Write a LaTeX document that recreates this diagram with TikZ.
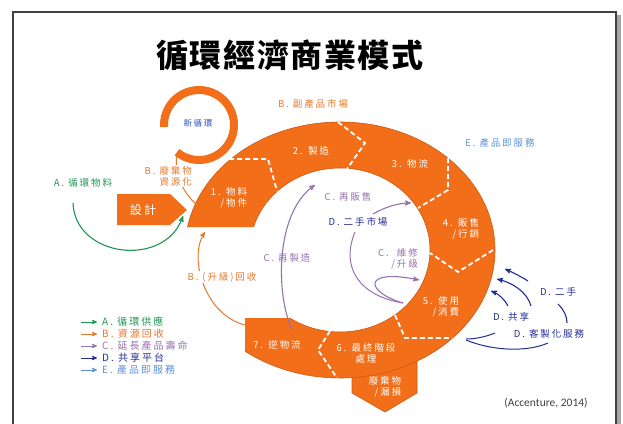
\documentclass[tikz,border=0pt]{standalone}
\usepackage{fontspec}
\newfontfamily\cjk[LetterSpace=20]{Noto Sans CJK TC}
\newfontfamily\cjktitle[LetterSpace=5]{Noto Sans CJK TC}
\newfontfamily\acc{Carlito}
\usepackage{tikz}
\usetikzlibrary{arrows,arrows.meta}

\definecolor{ringorange}{RGB}{242,110,24}
\definecolor{ringedge}{RGB}{205,88,20}
\definecolor{corange}{RGB}{232,120,45}
\definecolor{cgreen}{RGB}{30,150,80}
\definecolor{cpurple}{RGB}{150,115,175}
\definecolor{cnavy}{RGB}{35,45,150}
\definecolor{clblue}{RGB}{95,145,215}
\definecolor{cblue}{RGB}{40,80,185}

\begin{document}
\begin{tikzpicture}[>=stealth',x=1pt,y=-1pt,
            seg/.style={text=white,font=\cjk\fontsize{9.5}{11}\selectfont,align=right,inner sep=0pt},
            lbl/.style={font=\cjk\fontsize{9.5}{11}\selectfont,inner sep=1pt},
            divider/.style={white,dashed,line width=1.8pt,dash pattern=on 5pt off 3pt},
            link/.style={->,line width=1.1pt}]
            \useasboundingbox (0,0) rectangle (623,423);
            \fill[white] (0,0) rectangle (623,423);

            % frame with shadow
            \fill[black!35] (616,15) rectangle (621,430);
            \draw[black!75,line width=1.5pt] (13,12) rectangle (616,440);

            \node[font=\cjktitle\bfseries\fontsize{32}{32}\selectfont] (title) at (290,55) {循環經濟商業模式};

            % waste box below stage 6
            \filldraw[fill=ringorange,draw=ringedge,line width=0.6pt]
                  (352,360) -- (417,360) -- (417,393) -- (385,412) -- (352,393) -- cycle;

            % the ring
            \begin{scope}
              \clip (0,0) -- (623,0) -- (623,423) -- (245,423) -- (245,318)
                    -- (300,318) -- (300,227) -- (0,227) -- cycle;
              \filldraw[fill=ringorange,draw=ringedge,line width=0.6pt,even odd rule]
                    (340,250) ellipse [x radius=155,y radius=128]
                    (340,250) ellipse [x radius=90,y radius=82];
            \end{scope}

            \draw[divider] (229,159) -- (268,159) -- (277,191);
            \draw[divider] (338,122) -- (365,143) -- (347,169);
            \draw[divider] (448,158) -- (448,190) -- (418,208);
            \draw[divider] (493,250) -- (458,272) -- (430,253);
            \draw[divider] (395,315) -- (405,338) -- (452,338);
            \draw[divider] (330,331) -- (318,350) -- (337,378);

            % design box
            \fill[ringorange] (117,194) -- (170,194) -- (187,210) -- (170,225) -- (117,225) -- cycle;
            \node[seg,font=\cjk\fontsize{12}{12}\selectfont] (design) at (143,210) {設計};

            \node[seg] (s1) at (229,198) {1. 物料\\/物件};
            \node[seg] (s2) at (311,151) {2. 製造};
            \node[seg] (s3) at (410,164) {3. 物流};
            \node[seg] (s4) at (461,229) {4. 販售\\/行銷};
            \node[seg] (s5) at (441,307) {5. 使用\\/消費};
            \node[seg,align=center] (s6) at (366,353) {6. 最終階段\\處理};
            \node[seg] (s7) at (277,345) {7. 逆物流};
            \node[seg] (waste) at (385,387) {廢棄物\\/漏損};

            % waste to resource, new cycle
            \coordinate (wB0) at (197,205);
            \coordinate (wB1) at (178,152);
            \draw[corange,line width=1pt] (wB0) .. controls (182,192) and (172,170) .. (wB1);
            \draw[ringorange,line width=8pt] (199,125) ++(177:35) arc[start angle=177,end angle=489,radius=35];
            \node[lbl,text=cblue,font=\cjk\fontsize{8.5}{10}\selectfont] (newloop) at (198,123) {新循環};
            \node[lbl,text=corange,align=right,fill=white,anchor=east] (wasteres) at (193,176) {B. 廢棄物\\資源化};

            % circular supply
            \coordinate (gA0) at (73,203);
            \coordinate (gA1) at (183,216);
            \draw[link,cgreen] (gA0) .. controls (75,258) and (165,268) .. (gA1);
            \node[lbl,text=cgreen] (supply) at (83,183) {A. 循環物料};

            % recycling
            \coordinate (rB0) at (245,325);
            \coordinate (rB1) at (205,232);
            \draw[link,corange,line width=1pt] (rB0) .. controls (205,315) and (188,258) .. (rB1);
            \node[lbl,text=corange,fill=white] (recycle) at (222,277) {B. (升級)回收};

            \node[lbl,text=corange] (bymarket) at (313,104) {B. 副產品市場};
            \node[lbl,text=clblue] (service) at (500,143) {E. 產品即服務};

            % product life
            \coordinate (cM0) at (292,330);
            \coordinate (cM1) at (315,185);
            \draw[link,cpurple] (cM0) .. controls (275,292) and (276,212) .. (cM1);
            \node[lbl,text=cpurple] (reman) at (287,258) {C. 再製造};

            \coordinate (cD) at (355,232);
            \coordinate (cU) at (403,303);
            \coordinate (cF) at (419,280);
            \coordinate (cR0) at (373,214);
            \coordinate (cR1) at (411,203);
            \draw[cpurple,line width=1pt] (cD) .. controls (340,268) and (360,296) .. (cU);
            \draw[link,cpurple] (cU) .. controls (365,292) and (362,268) .. (cF);
            \draw[link,cpurple] (cR0) .. controls (385,207) and (398,203) .. (cR1);
            \node[lbl,text=cpurple] (resell) at (348,197) {C. 再販售};
            \node[lbl,text=cnavy] (second) at (358,222) {D. 二手市場};
            \node[lbl,text=cpurple,align=right] (repair) at (398,259) {C.\ \ 維修\\/升級};

            % sharing platforms
            \coordinate (d1a) at (528,281);
            \coordinate (d1b) at (505,269);
            \coordinate (d2a) at (531,306);
            \coordinate (d2b) at (497,279);
            \coordinate (d3a) at (508,306);
            \coordinate (d3b) at (491,291);
            \coordinate (d4a) at (558,304);
            \coordinate (d4b) at (567,323);
            \coordinate (d5a) at (495,333);
            \coordinate (d5b) at (466,339);
            \coordinate (d6a) at (548,343);
            \coordinate (d6b) at (466,340);
            \draw[link,cnavy] (d1a) .. controls (520,276) and (512,272) .. (d1b);
            \draw[link,cnavy] (d2a) .. controls (527,292) and (513,283) .. (d2b);
            \draw[link,cnavy] (d3a) .. controls (505,300) and (499,294) .. (d3b);
            \draw[cnavy,line width=1.1pt] (d4a) .. controls (564,310) and (567,316) .. (d4b);
            \draw[cnavy,line width=1pt] (d5a) .. controls (485,337) and (475,339) .. (d5b);
            \draw[cnavy,line width=1pt] (d6a) .. controls (525,353) and (490,350) .. (d6b);
            \node[lbl,text=cnavy] (dsecond) at (558,292) {D. 二手};
            \node[lbl,text=cnavy] (dshare) at (511,317) {D. 共享};
            \node[lbl,text=cnavy] (dcustom) at (549,334) {D. 客製化服務};

            % legend
            \foreach \c/\t [count=\i] in {cgreen/A. 循環供應,corange/B. 資源回收,
                  cpurple/C. 延長產品壽命,cnavy/D. 共享平台,clblue/E. 產品即服務}
            {
              \node[lbl,text=\c,anchor=west,font=\cjk\fontsize{10}{11}\selectfont]
                    (leg\i) at (101,310+12*\i) {\t};
              \draw[->,\c,line width=0.8pt] ([xshift=-20pt]leg\i.west) -- ([xshift=-4pt]leg\i.west);
            }

            \node[font=\acc\fontsize{11.5}{12}\selectfont,text=black!75] (source) at (546,403) {(Accenture, 2014)};
        \end{tikzpicture}
\end{document}
